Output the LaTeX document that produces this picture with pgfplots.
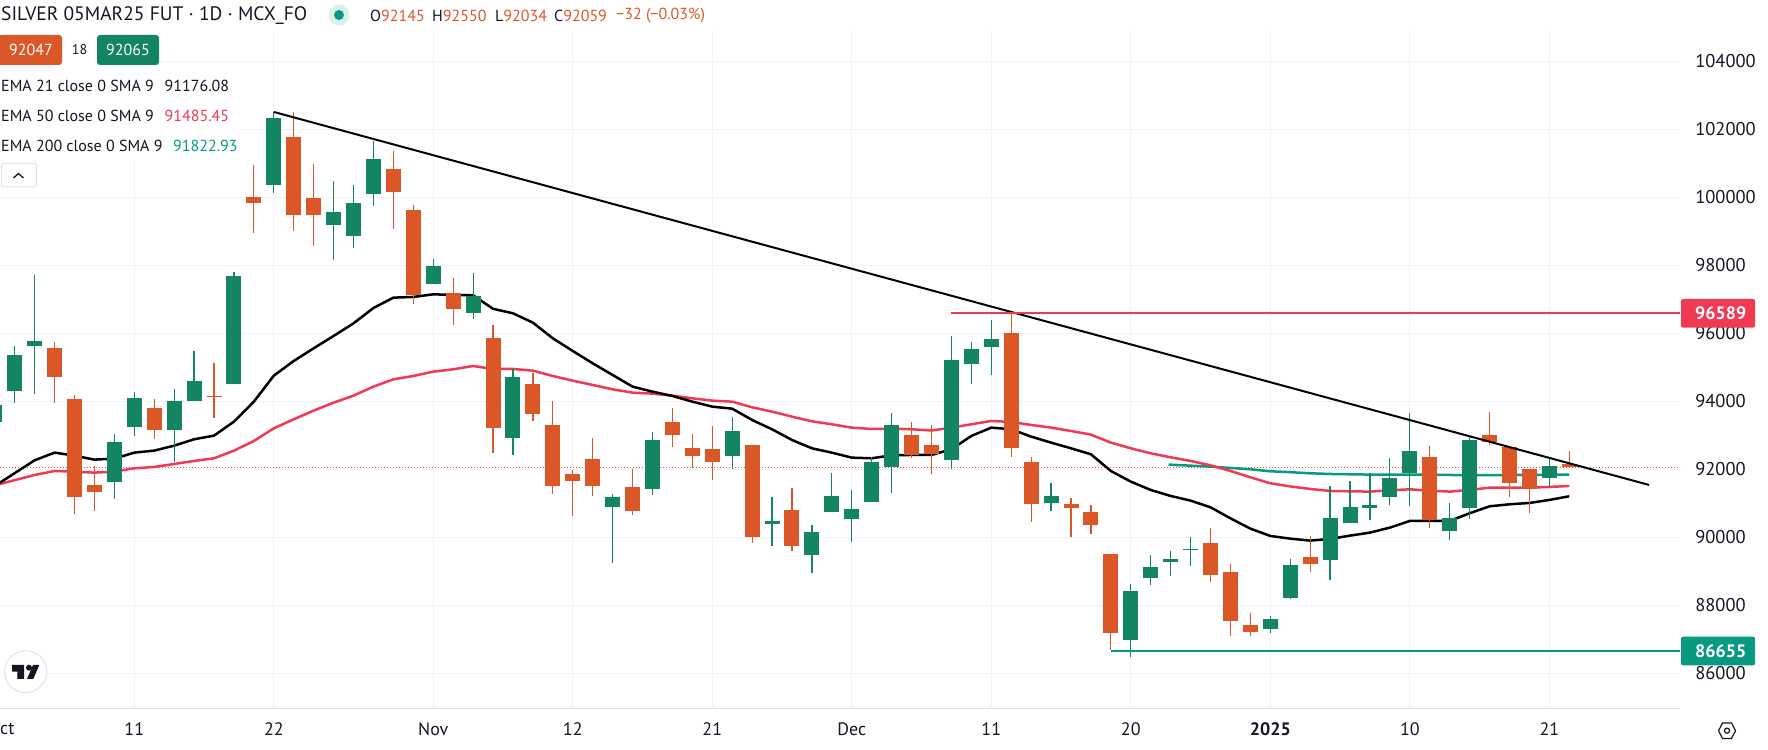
\documentclass[border=0pt]{standalone}
\usepackage{pgfplots}
\usepackage{pgfplotstable}
\usepackage{fontspec}
\setmainfont{PT Sans}
\pgfplotsset{compat=1.18}
\definecolor{cgreen}{HTML}{148563}
\definecolor{corange}{HTML}{DB5727}
\definecolor{lred}{HTML}{EF3A52}
\definecolor{lteal}{HTML}{089981}
\definecolor{ink}{HTML}{131722}
\definecolor{gridc}{HTML}{F0F3FA}
\definecolor{axc}{HTML}{E0E3EB}
\newcommand\fs[1]{\fontsize{#1}{#1}\selectfont}
% k bot top low high
\pgfplotstableread{
k bot top low high
-7 93401 93891 93401 93891
-6 94313 95362 93960 95627
-5 95637 95774 94225 97715
-1 91637 92793 91127 93039
0 93254 94088 92990 94264
2 93166 94009 92215 94362
3 94019 94597 94019 95480
5 94499 97685 94499 97793
7 100372 102332 100136 102519
10 99185 99568 98166 100470
11 98862 99832 98509 100362
12 100107 101127 99754 101656
15 97450 97979 97450 98185
17 96597 97097 96421 97774
19 92930 94715 92431 94940
24 90901 91185 89254 91274
26 91431 92862 91254 93097
30 92391 93127 92019 93538
32 90391 90479 89754 91185
34 89489 90156 88960 90362
35 90744 91215 90744 91882
36 90538 90833 89872 91391
37 91048 92215 91048 92362
38 92068 93303 91313 93656
41 92274 95215 92019 95921
42 95098 95539 94509 95745
43 95598 95833 94774 96392
46 91009 91215 90774 91597
50 86980 88421 86490 88627
51 88803 89127 88598 89480
52 89274 89362 88862 89598
53 89626 89656 89156 90009
57 87303 87597 87186 87686
58 88215 89186 88186 89362
60 89333 90568 88745 91509
61 90421 90892 90421 91657
62 90862 90951 90509 91882
63 91186 91745 90951 92333
64 91892 92539 90921 93657
66 90186 90568 89921 91009
67 90862 92862 90539 92980
71 91745 92098 91470 92362
}\greencandles
\pgfplotstableread{
k bot top low high
-4 94725 95558 93960 95735
-3 91195 94068 90695 94176
-2 91342 91529 90784 92097
1 93166 93803 92901 94068
4 94130 94160 93519 95117
6 99842 100009 98960 100950
8 99489 101773 99019 102499
9 99489 99979 98568 100980
13 100156 100832 99068 101362
14 97127 99626 96872 99773
16 96715 97176 96254 97627
18 93225 95862 92490 96235
20 93636 94509 93430 94842
21 91519 93303 91283 94009
22 91656 91862 90636 91980
23 91519 92303 91225 92921
25 90783 91480 90666 92009
27 93019 93391 92666 93803
28 92391 92627 92048 93038
29 92215 92597 91695 93274
31 90009 92715 89842 92715
33 89744 90803 89607 91450
39 92421 93009 92342 93391
40 92450 92715 91872 93303
44 92627 96009 92372 96589
45 90980 92215 90450 92352
47 90862 90980 90009 91147
48 90362 90745 90098 90950
49 87195 89509 86686 89509
54 88892 89833 88686 90274
55 87539 88980 87098 89215
56 87215 87421 87098 87774
59 89215 89421 88980 90039
65 90509 92362 90274 92686
68 92804 93009 92715 93686
69 91598 92657 91186 92657
70 91421 92009 90715 92009
72 92059 92145 92034 92550
}\orangecandles
\begin{document}
\begin{tikzpicture}
\path[use as bounding box] (0,0) rectangle (1768pt,749pt);
\begin{axis}[
  at={(0pt,40.7pt)}, anchor=south west,
  scale only axis, width=1680pt, height=678.3pt,
  xmin=-6.739, xmax=77.56, ymin=84970, ymax=104920,
  axis x line*=bottom, axis y line*=right,
  x axis line style={-,draw=axc,line width=1.5pt},
  y axis line style={-,draw=none},
  major tick length=0pt,
  xtick={0,7,15,22,29,36,43,50,57,64,71},
  xticklabels={11,22,Nov,12,21,Dec,11,20,\textbf{2025},10,21},
  ytick={86000,88000,90000,92000,94000,96000,98000,100000,102000,104000},
  yticklabels={86000,88000,90000,92000,94000,96000,98000,100000,102000,104000},
  scaled y ticks=false,
  grid=major,
  grid style={draw=gridc,line width=1pt},
  xticklabel style={anchor=center,font=\fs{18},text=ink,yshift=-20.7pt,inner sep=0pt},
  yticklabel style={anchor=west,font=\fs{18.5},text=ink,xshift=15pt,inner sep=0pt},
  clip=true,
  every axis plot/.append style={forget plot},
]
\addplot[corange,dash pattern=on 1pt off 2pt,line width=1pt] coordinates {(-6.739,92059) (77.56,92059)};
% EMA 200
\addplot[lteal,line width=2.5pt] coordinates {
(51.9,92137)(54,92078)(56,92000)(57,91941)(58,91915)(59,91882)(60,91862)(62,91843)(65,91843)(67,91823)(72,91843)};
% EMA 50
\addplot[lred,line width=2.5pt] coordinates {
(-6.74,91568)(-5,91833)(-4,91950)(-3,91931)(-2,91901)(-1,91931)(0,92029)(1,92068)(2,92156)(3,92244)(4,92323)(5,92548)(6,92833)(7,93205)(8,93470)(9,93725)(10,93960)(11,94166)(12,94431)(13,94646)(14,94744)(15,94872)(16,94940)(17,95038)(18,94950)(19,94950)(20,94901)(21,94744)(22,94607)(23,94480)(24,94352)(25,94254)(26,94225)(27,94166)(28,94087)(29,94019)(30,93989)(31,93823)(32,93695)(33,93548)(34,93411)(35,93323)(36,93225)(37,93185)(38,93195)(39,93176)(40,93140)(41,93225)(42,93323)(43,93421)(44,93392)(45,93303)(46,93225)(47,93127)(48,93019)(49,92784)(50,92617)(51,92470)(52,92352)(53,92245)(54,92117)(55,91950)(56,91764)(57,91588)(58,91495)(59,91421)(60,91362)(61,91352)(62,91343)(63,91382)(64,91411)(65,91372)(66,91343)(67,91392)(68,91460)(69,91460)(70,91460)(71,91480)(72,91509)};
% EMA 21
\addplot[black,line width=2.5pt] coordinates {
(-6.74,91607)(-5,92264)(-4,92490)(-3,92401)(-2,92284)(-1,92313)(0,92490)(1,92548)(2,92695)(3,92882)(4,92990)(5,93401)(6,93990)(7,94754)(8,95186)(9,95558)(10,95921)(11,96293)(12,96744)(13,97048)(14,97068)(15,97146)(16,97127)(17,97117)(18,96720)(19,96587)(20,96313)(21,95852)(22,95480)(23,95117)(24,94774)(25,94431)(26,94283)(27,94156)(28,93989)(29,93842)(30,93783)(31,93450)(32,93176)(33,92862)(34,92617)(35,92489)(36,92342)(37,92323)(38,92411)(39,92421)(40,92421)(41,92588)(42,92980)(43,93225)(44,93176)(45,92960)(46,92784)(47,92617)(48,92441)(49,91950)(50,91637)(51,91392)(52,91215)(53,91078)(54,90882)(55,90558)(56,90254)(57,90039)(58,89960)(59,89902)(60,89951)(61,90049)(62,90137)(63,90284)(64,90480)(65,90480)(66,90480)(67,90706)(68,90911)(69,90970)(70,91009)(71,91098)(72,91206)};
% wicks
\addplot[draw=none,mark=none,error bars/.cd,y dir=plus,y explicit,error mark=none,error bar style={draw=cgreen,line width=1.2pt}]
  table[x=k,y=low,y error plus expr=\thisrow{high}-\thisrow{low}] {\greencandles};
\addplot[draw=none,mark=none,error bars/.cd,y dir=plus,y explicit,error mark=none,error bar style={draw=corange,line width=1.2pt}]
  table[x=k,y=low,y error plus expr=\thisrow{high}-\thisrow{low}] {\orangecandles};
% bodies
\addplot[draw=none,mark=none,error bars/.cd,y dir=plus,y explicit,error mark=none,error bar style={draw=cgreen,line width=15pt}]
  table[x=k,y=bot,y error plus expr=\thisrow{top}-\thisrow{bot}] {\greencandles};
\addplot[draw=none,mark=none,error bars/.cd,y dir=plus,y explicit,error mark=none,error bar style={draw=corange,line width=15pt}]
  table[x=k,y=bot,y error plus expr=\thisrow{top}-\thisrow{bot}] {\orangecandles};
% drawings
\addplot[black,line width=2pt] coordinates {(7,102509)(76,91540)};
\addplot[lred,line width=2pt] coordinates {(41,96589)(77.56,96589)};
\addplot[lteal,line width=2pt] coordinates {(49,86655)(77.56,86655)};
\end{axis}
\begin{scope}[x=1pt,y=-1pt,shift={(0pt,749pt)}]
% cover grid behind the status lines
\fill[white] (0,30) rectangle (160,72);
\fill[white] (0,72) rectangle (238,160);
% title row
\node[anchor=west,inner sep=0pt,text=ink,font=\fs{19.5}] at (1,16) {SILVER 05MAR25 FUT · 1D · MCX\_FO};
\fill[lteal!15] (339,15) circle (10.5);
\fill[lteal] (339,15) circle (5);
\node[anchor=west,inner sep=0pt,text=ink,font=\fs{16}] at (370,16) {O\textcolor{corange}{92145}};
\node[anchor=west,inner sep=0pt,text=ink,font=\fs{16}] at (432,16) {H\textcolor{corange}{92550}};
\node[anchor=west,inner sep=0pt,text=ink,font=\fs{16}] at (495,16) {L\textcolor{corange}{92034}};
\node[anchor=west,inner sep=0pt,text=ink,font=\fs{16}] at (554,16) {C\textcolor{corange}{92059}};
\node[anchor=west,inner sep=0pt,text=corange,font=\fs{16}] at (616,16) {−32 (−0.03\%)};
% buy/sell
\fill[corange,rounded corners=3pt] (0,35) rectangle (62,65);
\fill[corange] (0,35) rectangle (10,65);
\node[text=white,font=\fs{16},inner sep=0pt] at (31,50) {92047};
\node[text=ink,font=\fs{14},inner sep=0pt] at (79.5,50) {18};
\fill[cgreen,rounded corners=3pt] (97,35) rectangle (159,65);
\node[text=white,font=\fs{16},inner sep=0pt] at (128,50) {92065};
% indicator legend
\node[anchor=west,inner sep=0pt,text=ink,font=\fs{16}] at (1,85.7) {EMA 21 close 0 SMA 9};
\node[anchor=west,inner sep=0pt,text=ink,font=\fs{16}] at (164.5,85.7) {91176.08};
\node[anchor=west,inner sep=0pt,text=ink,font=\fs{16}] at (1,115.7) {EMA 50 close 0 SMA 9};
\node[anchor=west,inner sep=0pt,text=lred,font=\fs{16}] at (164.5,115.7) {91485.45};
\node[anchor=west,inner sep=0pt,text=ink,font=\fs{16}] at (1,145.7) {EMA 200 close 0 SMA 9};
\node[anchor=west,inner sep=0pt,text=lteal,font=\fs{16}] at (173,145.7) {91822.93};
\draw[axc,line width=1pt,fill=white,rounded corners=2pt] (1.5,163.5) rectangle (36.5,187);
\draw[ink,line width=1.3pt] (13.5,178) -- (18.5,173.5) -- (23.5,178);
% price labels
\fill[lred,rounded corners=2pt] (1681,299) rectangle (1755,327.7);
\node[text=white,font=\bfseries\fs{18},inner sep=0pt,anchor=west] at (1695,313.3) {96589};
\fill[lteal,rounded corners=2pt] (1681,636.7) rectangle (1755,665.4);
\node[text=white,font=\bfseries\fs{18},inner sep=0pt,anchor=west] at (1695,651) {86655};
% clipped Oct label
\node[anchor=west,inner sep=0pt,text=ink,font=\fs{18}] at (0,729) {ct};
% TradingView logo
\draw[axc,fill=white,line width=1pt] (25.7,671.7) circle (21);
\fill[ink] (12,665) -- (24,665) -- (24,679) -- (17.3,679) -- (17.3,671.7) -- (12,671.7) -- cycle;
\fill[ink] (29,667.7) circle (3);
\fill[ink] (33,665) -- (39.3,665) -- (33.3,679) -- (27,679) -- cycle;
% eye icon
\draw[ink,line width=1.2pt] (1718.5,730.7) -- (1722.5,723) -- (1731.5,723) -- (1735.5,730.7) -- (1731.5,738.4) -- (1722.5,738.4) -- cycle;
\draw[ink,line width=1.2pt] (1727,730.7) circle (2.6);
\end{scope}
\end{tikzpicture}
\end{document}
